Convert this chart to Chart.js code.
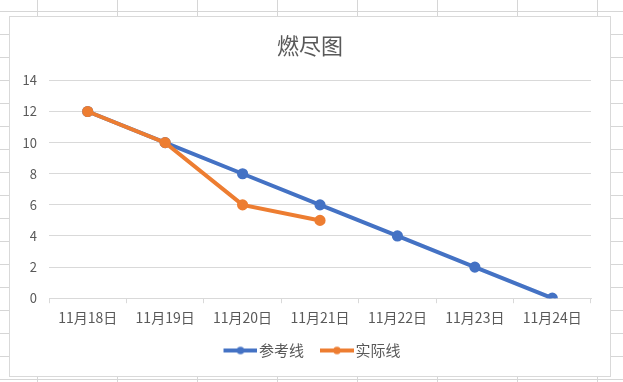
<!DOCTYPE html>
<html>
<head>
<meta charset="utf-8">
<script src="https://cdn.jsdelivr.net/npm/chart.js@4/dist/chart.umd.min.js"></script>
<style>
  html, body { margin: 0; padding: 0; }
  body {
    width: 623px; height: 382px; overflow: hidden; position: relative;
    background-color: #fff;
    background-image:
      linear-gradient(to right, #d6d6d6 1px, transparent 1px),
      linear-gradient(to bottom, #d6d6d6 1px, transparent 1px);
    background-size: 80px 23px;
    background-position: 37px 11px;
  }
  #box {
    position: absolute; left: 9px; top: 16px; width: 600px; height: 359px;
    background: #fff; border: 1px solid #d9d9d9;
  }
  canvas { display: block; }
</style>
</head>
<body>
<div id="box"><canvas id="c" width="600" height="359"></canvas></div>
<script>
const categories = ['11月18日', '11月19日', '11月20日', '11月21日', '11月22日', '11月23日', '11月24日'];
const referenceValues = [12, 10, 8, 6, 4, 2, 0];
const actualValues = [12, 10, 6, 5, null, null, null];
const seriesNames = ['参考线', '实际线'];
const chartTitle = '燃尽图';

const BLUE = '#4472C4', ORANGE = '#ED7D31', TEXT = '#595959', GRID = '#d9d9d9';
const FONT = '"Noto Sans CJK SC", "Noto Sans", sans-serif';

function legendIcon(color) {
  const c = document.createElement('canvas');
  c.width = 44; c.height = 10;
  const g = c.getContext('2d');
  g.strokeStyle = color; g.lineWidth = 4;
  g.beginPath(); g.moveTo(10, 5); g.lineTo(44, 5); g.stroke();
  g.fillStyle = color; g.beginPath(); g.arc(27, 5, 3.8, 0, Math.PI * 2); g.fill();
  return c;
}
const icons = [legendIcon(BLUE), legendIcon(ORANGE)];

new Chart(document.getElementById('c'), {
  type: 'line',
  data: {
    labels: categories,
    datasets: [
      { label: seriesNames[0], data: referenceValues, borderColor: BLUE, backgroundColor: BLUE,
        borderWidth: 4, pointRadius: 3.6, pointHoverRadius: 3.6, tension: 0, order: 1 },
      { label: seriesNames[1], data: actualValues, borderColor: ORANGE, backgroundColor: ORANGE,
        borderWidth: 4, pointRadius: 3.6, pointHoverRadius: 3.6, tension: 0, order: 0 }
    ]
  },
  options: {
    responsive: false, animation: false,
    layout: { padding: { left: 0, right: 0, top: 0, bottom: 8 } },
    plugins: {
      title: { display: true, text: chartTitle, color: TEXT,
        font: { family: FONT, size: 22, weight: 'normal' }, padding: { top: 15, bottom: 22 } },
      legend: { position: 'bottom',
        labels: { color: TEXT, font: { family: FONT, size: 15 }, usePointStyle: true,
          pointStyleWidth: 32, boxHeight: 10, padding: 12,
          generateLabels: (chart) => chart.data.datasets.map((d, i) => ({
            text: d.label, fontColor: TEXT, pointStyle: icons[i], datasetIndex: i,
            lineWidth: 0, strokeStyle: 'transparent', fillStyle: 'transparent', hidden: false })) } },
      tooltip: { enabled: false }
    },
    scales: {
      x: { offset: true,
        afterFit: (s) => { s.height = s.height - 1; },
        grid: { offset: true, drawOnChartArea: false, drawTicks: true, tickLength: 5, color: GRID },
        border: { color: GRID },
        ticks: { color: TEXT, font: { family: FONT, size: 14 }, padding: 6, maxRotation: 0 } },
      y: { min: 0, max: 14,
        afterFit: (s) => { s.width = 39; },
        grid: { color: GRID, drawTicks: false },
        border: { display: false },
        ticks: { stepSize: 2, color: TEXT, font: { family: FONT, size: 13 }, padding: 12 } },
      yRight: { position: 'right', display: true,
        afterFit: (s) => { s.width = 19; },
        grid: { display: false }, border: { display: false }, ticks: { display: false } }
    }
  }
});
</script>
</body>
</html>
